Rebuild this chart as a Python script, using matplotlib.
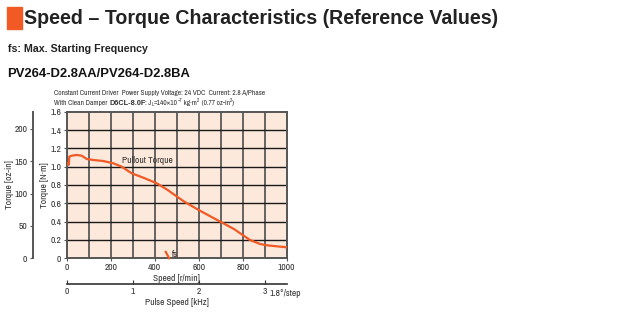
import numpy as np
import matplotlib
matplotlib.use("Agg")
import matplotlib.pyplot as plt
from matplotlib.patches import Rectangle

# pullout torque curve
speed = [3, 6, 9, 12, 23, 45, 68, 91, 121, 166, 212, 250, 295, 348, 409,
         455, 530, 600, 690, 760, 833, 879, 909, 1000]
torque = [1.03, 1.04, 1.02, 1.11, 1.12, 1.128, 1.12, 1.084, 1.073, 1.062, 1.037,
          1.0, 0.928, 0.88, 0.819, 0.752, 0.625, 0.527, 0.41, 0.32, 0.2, 0.156,
          0.142, 0.12]
fs_speed = [450, 466]
fs_torque = [0.07, 0.0]

nm_ticks = [0, 0.2, 0.4, 0.6, 0.8, 1.0, 1.2, 1.4, 1.6]
nm_labels = ["0", "0.2", "0.4", "0.6", "0.8", "1.0", "1.2", "1.4", "1.6"]
ozin_ticks = [0, 50, 100, 150, 200]
rpm_ticks = [0, 200, 400, 600, 800, 1000]
khz_ticks = [0, 1, 2, 3]

ORANGE = "#f15a24"
TXT = "#333333"
NARROW = ["Archivo Narrow", "Liberation Sans", "DejaVu Sans"]
FS = 6.8  # small label size
SUB = 5.3  # driver note size

plt.rcParams["font.family"] = ["Liberation Sans", "DejaVu Sans"]

fig = plt.figure(figsize=(6.36, 3.35), dpi=100)
renderer = fig.canvas.get_renderer()


def chain(x, y, parts):
    """Write text pieces one after another from pixel (x, y) from top-left."""
    for s, kw in parts:
        dy = kw.pop("dy", 0)
        t = fig.text(x / 636, 1 - (y + dy) / 335, s, va="baseline", ha="left",
                     color=TXT, **kw)
        x = t.get_window_extent(renderer).x1
    return x


# header
fig.patches.append(Rectangle((7 / 636, 1 - 29 / 335), 15 / 636, 22 / 335,
                             transform=fig.transFigure, color=ORANGE))
fig.text(24 / 636, 1 - 18 / 335, "Speed – Torque Characteristics (Reference Values)",
         fontsize=14.1, fontweight="bold", color="#222222", va="center")
fig.text(8 / 636, 1 - 49 / 335, "fs: Max. Starting Frequency", fontsize=7.7,
         fontweight="bold", color="#222222", va="center")
fig.text(7 / 636, 1 - 74 / 335, "PV264-D2.8AA/PV264-D2.8BA", fontsize=9.4,
         fontweight="bold", color="#111111", va="center")

chain(54, 95, [("Constant Current Driver  Power Supply Voltage: 24 VDC  Current: 2.8 A/Phase",
                dict(fontsize=SUB, family=NARROW))])
chain(54, 105, [
    ("With Clean Damper ", dict(fontsize=SUB, family=NARROW)),
    ("D6CL-8.0F", dict(fontsize=SUB, family=["Liberation Sans"], fontweight="bold")),
    (": J", dict(fontsize=SUB, family=NARROW)),
    ("L", dict(fontsize=3.6, family=NARROW, dy=1)),
    ("=140×10", dict(fontsize=SUB, family=NARROW)),
    ("−7", dict(fontsize=3.6, family=NARROW, dy=-3)),
    (" kg·m", dict(fontsize=SUB, family=NARROW)),
    ("2", dict(fontsize=3.6, family=NARROW, dy=-3)),
    (" (0.77 oz-in", dict(fontsize=SUB, family=NARROW)),
    ("2", dict(fontsize=3.6, family=NARROW, dy=-3)),
    (")", dict(fontsize=SUB, family=NARROW)),
])

ax = fig.add_axes([66.7 / 636, 1 - 258.3 / 335, 220 / 636, 146.6 / 335])
ax.set_facecolor("#fde8dc")
ax.set_xlim(0, 1000)
ax.set_ylim(0, 1.6)

for x in np.arange(100, 1000, 100):
    ax.axvline(x, color="#5a5a5a", lw=1.3, zorder=1)
for y in np.arange(0.2, 1.6, 0.2):
    ax.axhline(y, color="#1a1a1a", lw=1.0, zorder=1)

ax.plot(speed, torque, color=ORANGE, lw=1.6, zorder=3)
ax.plot(fs_speed, fs_torque, color=ORANGE, lw=1.6, zorder=3, clip_on=False)
ax.text(250, 1.07, "Pullout Torque", fontsize=FS, color=TXT, va="center",
        ha="left", family=NARROW, zorder=4)
ax.text(478, 0.045, "fs", fontsize=FS, color=TXT, va="center", ha="left",
        family=NARROW, zorder=4)

for s in ax.spines.values():
    s.set_color("#555555")
    s.set_linewidth(1.4)

ax.set_xticks(rpm_ticks)
ax.set_yticks(nm_ticks)
ax.set_yticklabels(nm_labels)
ax.tick_params(labelsize=FS, colors="#555555", labelcolor=TXT, length=2.5,
               width=0.8, pad=1.5)
ax.tick_params(axis="x", pad=1)
for lab in ax.get_xticklabels() + ax.get_yticklabels():
    lab.set_family(NARROW)
ax.set_xlabel("Speed [r/min]", fontsize=FS, color=TXT, labelpad=1, family=NARROW)
ax.set_ylabel("Torque [N·m]", fontsize=FS, color=TXT, labelpad=0.5, family=NARROW)

# oz-in axis on the left
oz = ax.secondary_yaxis(-33.7 / 220, functions=(lambda v: v * 141.6, lambda v: v / 141.6))
oz.set_yticks(ozin_ticks)
oz.spines["left"].set_color("#555555")
oz.spines["left"].set_linewidth(1.4)
oz.tick_params(labelsize=FS, colors="#555555", labelcolor=TXT, length=2.5,
               width=0.8, pad=1.5)
for lab in oz.get_yticklabels():
    lab.set_family(NARROW)
oz.set_ylabel("Torque [oz-in]", fontsize=FS, color=TXT, labelpad=0.5, family=NARROW)

# pulse speed axis below
ps = ax.secondary_xaxis(-26 / 146.6, functions=(lambda v: v / 300, lambda v: v * 300))
ps.set_xticks(khz_ticks)
ps.spines["bottom"].set_color("#333333")
ps.spines["bottom"].set_linewidth(1.2)
ps.tick_params(direction="in", labelsize=FS, colors="#333333", labelcolor=TXT,
               length=3, width=0.8, pad=2)
for lab in ps.get_xticklabels():
    lab.set_family(NARROW)
ps.set_xlabel("Pulse Speed [kHz]", fontsize=FS, color=TXT, labelpad=1.5, family=NARROW)
fig.text(270 / 636, 1 - 296 / 335, "1.8°/step", fontsize=FS, color=TXT,
         va="baseline", ha="left", family=NARROW)

fig.savefig("out.png", dpi=100)
